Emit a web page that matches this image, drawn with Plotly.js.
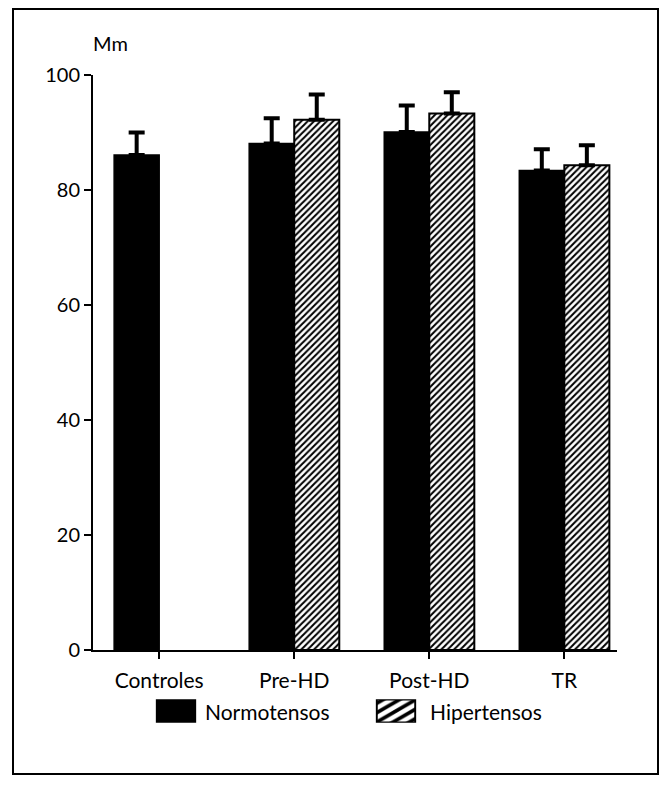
<!DOCTYPE html>
<html>
<head>
<meta charset="utf-8">
<script src="https://cdn.plot.ly/plotly-3.0.1.min.js"></script>
<style>
  html, body { margin: 0; padding: 0; background: #fff; }
  #wrap { position: relative; width: 666px; height: 785px; }
  #chart { position: absolute; left: 0; top: 0; width: 666px; height: 785px; }
  #frame { position: absolute; left: 12px; top: 8px; width: 643px; height: 763px; border: 2px solid #000; pointer-events: none; }
</style>
</head>
<body>
<div id="wrap">
  <div id="chart"></div>
  <div id="frame"></div>
</div>
<script>
const categories = ['Controles', 'Pre-HD', 'Post-HD', 'TR'];
const normotensos = [86.1, 88.1, 90.1, 83.4];
const normotensosErr = [3.9, 4.4, 4.6, 3.7];
const hipertensos = [null, 92.2, 93.3, 84.3];
const hipertensosErr = [null, 4.4, 3.7, 3.5];
const yTicks = [0, 20, 40, 60, 80, 100];
const unitLabel = 'Mm';

const FONT = 'Lato, "Open Sans", sans-serif';
const zeros = categories.map(() => 0);

const traces = [
  {
    type: 'bar', name: 'Normotensos', x: categories, y: normotensos,
    marker: { color: '#000', line: { color: '#000', width: 1.5 } },
    error_y: { type: 'data', array: normotensosErr, arrayminus: zeros, symmetric: false,
               color: '#000', thickness: 4, width: 8 }
  },
  {
    type: 'bar', name: 'Hipertensos', x: categories, y: hipertensos,
    marker: { color: '#fff', line: { color: '#000', width: 2 },
              pattern: { shape: '/', fgcolor: '#000', bgcolor: '#fff', size: 4.5, solidity: 0.45 } },
    error_y: { type: 'data', array: hipertensosErr, arrayminus: zeros, symmetric: false,
               color: '#000', thickness: 4, width: 8 }
  }
];

const layout = {
  width: 666, height: 785,
  margin: { l: 93, r: 49, t: 75, b: 135 },
  paper_bgcolor: '#fff', plot_bgcolor: '#fff',
  font: { family: FONT, size: 19, color: '#000' },
  barmode: 'group', bargap: 0.333, bargroupgap: 0,
  showlegend: true,
  legend: { orientation: 'h', x: 0.485, xanchor: 'center', y: -0.108, yanchor: 'middle',
            font: { family: FONT, size: 21, color: '#000' }, itemwidth: 30, traceorder: 'normal' },
  xaxis: {
    type: 'category', range: [-0.49, 3.39],
    showline: true, linecolor: '#000', linewidth: 2,
    ticks: 'outside', ticklen: 7, tickwidth: 2, tickcolor: '#000', ticklabelstandoff: 4,
    showgrid: false, zeroline: false, fixedrange: true,
    tickfont: { family: FONT, size: 21, color: '#000' }
  },
  yaxis: {
    range: [0, 100], tickvals: yTicks, ticktext: yTicks.map(String),
    showline: true, linecolor: '#000', linewidth: 2,
    ticks: 'outside', ticklen: 7, tickwidth: 2, tickcolor: '#000',
    showgrid: false, zeroline: false, fixedrange: true,
    tickfont: { family: FONT, size: 20, color: '#000' }
  },
  annotations: [
    { text: unitLabel, xref: 'paper', yref: 'paper', x: 0.0, y: 1.0, xanchor: 'left', yanchor: 'bottom',
      xshift: -2, yshift: 18, showarrow: false, font: { family: FONT, size: 20, color: '#000' } }
  ]
};

// legend swatch/text placement (page pixels)
const legendSwatchLeft = [157, 377];
const legendTextLeft = [205, 430];
const legendMidY = 711;

Plotly.newPlot('chart', traces, layout, { displayModeBar: false, staticPlot: true }).then(function (gd) {
  gd.querySelectorAll('.legend [clip-path]').forEach(function (el) { el.removeAttribute('clip-path'); });
  const host = gd.getBoundingClientRect();
  const items = gd.querySelectorAll('.legend .traces');
  items.forEach(function (item, i) {
    const text = item.querySelector('text.legendtext');
    const path = item.querySelector('.legendpoints path');
    if (!text || !path) return;
    const tb = text.getBoundingClientRect();
    const tdx = (host.left + legendTextLeft[i]) - tb.left;
    const tdy = (host.top + legendMidY) - (tb.top + tb.height / 2);
    const oldT = text.getAttribute('transform') || '';
    text.setAttribute('transform', oldT + ' translate(' + tdx + ',' + tdy + ')');
    const pb = path.getBoundingClientRect();
    const cx = pb.left + pb.width / 2;
    const cy = pb.top + pb.height / 2;
    const dx = (host.left + legendSwatchLeft[i] + 19) - cx;
    const dy = (host.top + legendMidY) - cy;
    const oldP = path.getAttribute('transform') || '';
    path.setAttribute('transform', oldP + ' translate(' + dx + ',' + dy + ') scale(3.2,1.85)');
    path.style.strokeWidth = '0.6px';
  });
});
</script>
</body>
</html>
